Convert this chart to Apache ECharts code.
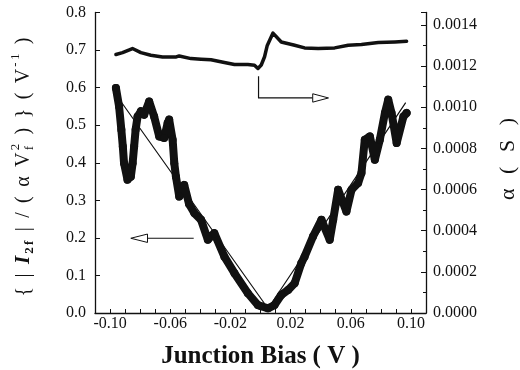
<!DOCTYPE html>
<html>
<head>
<meta charset="utf-8">
<script src="https://cdn.jsdelivr.net/npm/echarts@6/dist/echarts.min.js"></script>
<style>
html,body{margin:0;padding:0;background:#fff;}
#c{width:520px;height:370px;}
</style>
</head>
<body>
<div id="c"></div>
<script>
// ---- data ----
var xTickLabels = ['-0.10', '-0.06', '-0.02', '0.02', '0.06', '0.10'];
var leftTickLabels = ['0.0', '0.1', '0.2', '0.3', '0.4', '0.5', '0.6', '0.7', '0.8'];
var rightTickLabels = ['0.0000', '0.0002', '0.0004', '0.0006', '0.0008', '0.0010', '0.0012', '0.0014'];

// normalized second harmonic  {|I2f|/(alpha Vf^2)}  (left axis, V^-1)
var ratioX = [-0.0961, -0.094, -0.0925, -0.0915, -0.0907, -0.0884, -0.0862, -0.085, -0.084, -0.083, -0.0817, -0.0795, -0.0773, -0.074, -0.0707, -0.0673, -0.064, -0.0617, -0.0607, -0.0584, -0.0573, -0.0562, -0.054, -0.0507, -0.0475, -0.044, -0.0395, -0.035, -0.0307, -0.024, -0.0173, -0.0084, -0.0017, 0.0005, 0.005, 0.0093, 0.0138, 0.0183, 0.0227, 0.0271, 0.0293, 0.0349, 0.0405, 0.046, 0.0483, 0.0516, 0.0571, 0.0605, 0.0649, 0.0671, 0.0693, 0.0727, 0.076, 0.0793, 0.0827, 0.0849, 0.0871, 0.0905, 0.095, 0.0971];
var ratioY = [0.599, 0.55, 0.488, 0.443, 0.399, 0.355, 0.363, 0.399, 0.443, 0.488, 0.523, 0.537, 0.528, 0.563, 0.523, 0.47, 0.466, 0.506, 0.515, 0.461, 0.399, 0.363, 0.31, 0.341, 0.29, 0.266, 0.248, 0.195, 0.2125, 0.15, 0.106, 0.0525, 0.021, 0.018, 0.0125, 0.021, 0.048, 0.061, 0.079, 0.1325, 0.15, 0.2035, 0.248, 0.195, 0.248, 0.328, 0.27, 0.328, 0.346, 0.3725, 0.461, 0.47, 0.408, 0.461, 0.5325, 0.568, 0.5325, 0.4525, 0.523, 0.5325];

// straight-line guide (thin line)
var fitX = [-0.0935, 0.005, 0.0965];
var fitY = [0.567, 0.012, 0.56];

// alpha (right axis, S)
var alphaX = [-0.0961, -0.0917, -0.0851, -0.0795, -0.0729, -0.0651, -0.056, -0.054, -0.0462, -0.0395, -0.0329, -0.024, -0.0173, -0.0084, -0.004, -0.0017, -0.0007, 0.0005, 0.0027, 0.0045, 0.0083, 0.0138, 0.0227, 0.0293, 0.0383, 0.0493, 0.0583, 0.0671, 0.0783, 0.0894, 0.0971];
var alphaY = [0.001256, 0.001265, 0.001285, 0.001265, 0.001252, 0.001244, 0.001244, 0.001249, 0.001236, 0.001233, 0.00123, 0.001217, 0.001207, 0.001207, 0.001204, 0.001188, 0.001183, 0.001205, 0.001245, 0.0013, 0.00136, 0.001317, 0.001301, 0.001288, 0.001285, 0.001288, 0.001301, 0.001304, 0.001314, 0.001317, 0.00132];

// annotation arrows (data coordinates, left axis)
var arrowLeft = {from: [-0.0444, 0.199], base: [-0.0751, 0.199], tip: [-0.0862, 0.199]};
var arrowRight = {top: [-0.0013, 0.63], corner: [-0.0013, 0.5725], base: [0.0347, 0.5725], tip: [0.0452, 0.5725]};

function zip(a, b) { return a.map(function (v, i) { return [v, b[i]]; }); }

var SERIF = '"Liberation Serif", "Times New Roman", serif';
var chart = echarts.init(document.getElementById('c'), null, {renderer: 'canvas'});

function near(v, step) { var k = v / step; return Math.abs(k - Math.round(k)) < 1e-6; }

var option = {
  backgroundColor: '#fff',
  animation: false,
  grid: {left: 95, right: 94, top: 12.5, bottom: 57, containLabel: false, outerBoundsMode: 'none'},
  xAxis: {
    type: 'value', min: -0.11, max: 0.11, interval: 0.01,
    name: 'Junction Bias ( V )', nameLocation: 'middle', nameGap: 31,
    nameTextStyle: {fontFamily: SERIF, fontSize: 25, fontWeight: 'bold', color: '#111'},
    axisLine: {show: true, onZero: false, lineStyle: {color: '#111', width: 1.3}},
    axisTick: {show: true, inside: true, length: 4, interval: 0, lineStyle: {color: '#111', width: 1}},
    axisLabel: {
      interval: 0, margin: 3, fontFamily: SERIF, fontSize: 16, color: '#111',
      formatter: function (v) {
        var s = (Math.round(v * 100) / 100).toFixed(2);
        if (s === '-0.00') s = '0.00';
        return xTickLabels.indexOf(s) >= 0 ? s : '';
      }
    },
    splitLine: {show: false}
  },
  yAxis: [{
    type: 'value', min: 0, max: 0.8, interval: 0.1, position: 'left',
    axisLine: {show: true, onZero: false, lineStyle: {color: '#111', width: 1.3}},
    axisTick: {show: true, inside: true, length: 5, lineStyle: {color: '#111'}},
    axisLabel: {margin: 9, fontFamily: SERIF, fontSize: 16, color: '#111',
      formatter: function (v) { var i = Math.round(v * 10); return leftTickLabels[i] || ''; }},
    splitLine: {show: false}
  }, {
    type: 'value', min: 0, max: 0.00146, interval: 0.0002, position: 'right',
    axisLine: {show: true, onZero: false, lineStyle: {color: '#111', width: 1.3}},
    axisTick: {show: true, inside: true, length: 5, lineStyle: {color: '#111'}},
    minorTick: {show: true, splitNumber: 2, length: 3, lineStyle: {color: '#111'}},
    axisLabel: {margin: 7, fontFamily: SERIF, fontSize: 16, color: '#111', showMaxLabel: false,
      formatter: function (v) {
        if (!near(v, 0.0002)) return '';
        var i = Math.round(v / 0.0002); return rightTickLabels[i] || '';
      }},
    splitLine: {show: false}
  }],
  series: [{
    type: 'line', name: 'fit', yAxisIndex: 0, data: zip(fitX, fitY),
    showSymbol: false, lineStyle: {color: '#111', width: 1.2}, z: 3
  }, {
    type: 'line', name: 'ratio', yAxisIndex: 0, data: zip(ratioX, ratioY),
    symbol: 'circle', symbolSize: 8, showSymbol: true,
    itemStyle: {color: '#111'}, lineStyle: {color: '#111', width: 8, join: 'round', cap: 'round'}, z: 4
  }, {
    type: 'line', name: 'alpha', yAxisIndex: 1, data: zip(alphaX, alphaY),
    showSymbol: false, lineStyle: {color: '#111', width: 3.5, join: 'round', cap: 'round'}, z: 4
  }]
};
chart.setOption(option);

// ---- composed axis titles (rotated, with sub/superscripts) ----
var cv = document.createElement('canvas').getContext('2d');
function tw(font, t) { cv.font = font; return cv.measureText(t).width; }

function buildTitle(segs, gap) {
  var children = [], pos = 0;
  function put(t, f, dy) {
    children.push({type: 'text', x: pos, y: dy, style: {text: t, font: f, fill: '#111', textAlign: 'left', textVerticalAlign: 'middle'}});
  }
  segs.forEach(function (s) {
    if (s.stack) {
      var w = 0;
      s.stack.forEach(function (p) { put(p.t, p.f, p.dy); w = Math.max(w, tw(p.f, p.t)); });
      pos += w + gap;
    } else {
      s.t.split('').forEach(function (ch) { put(ch, s.f, s.dy); pos += tw(s.f, ch) + gap; });
    }
  });
  pos -= gap;
  children.forEach(function (c) { c.x -= pos / 2; });
  return children;
}

var F = '20px ' + SERIF, FB = 'italic bold 21px ' + SERIF, FS = '13px ' + SERIF, FSB = 'bold 13px ' + SERIF;
var leftTitle = buildTitle([
  {t: '{ | ', f: F, dy: 0},
  {t: 'I', f: FB, dy: 0},
  {t: '2f', f: FSB, dy: 6},
  {t: ' | / ( \u03b1 V', f: F, dy: 0},
  {stack: [{t: '2', f: FS, dy: -8}, {t: 'f', f: FS, dy: 6}]},
  {t: ' ) } ( V', f: F, dy: 0},
  {t: '-1', f: FS, dy: -8},
  {t: ' )', f: F, dy: 0}
], 2.2);
var rightTitle = buildTitle([{t: '\u03b1 ( S )', f: '22px ' + SERIF, dy: 0}], 4.5);

function px(p, axis) { return chart.convertToPixel({xAxisIndex: 0, yAxisIndex: axis || 0}, p); }
var aL0 = px(arrowLeft.from), aL1 = px(arrowLeft.base), aL2 = px(arrowLeft.tip);
var aR0 = px(arrowRight.top), aR1 = px(arrowRight.corner), aR2 = px(arrowRight.base), aR3 = px(arrowRight.tip);
var hh = 4.2;

chart.setOption({
  graphic: [
    {type: 'group', x: 24, y: 167, rotation: Math.PI / 2, children: leftTitle},
    {type: 'group', x: 508, y: 159, rotation: Math.PI / 2, children: rightTitle},
    {type: 'polyline', shape: {points: [aL0, aL1]}, style: {stroke: '#111', lineWidth: 1.2, fill: null}},
    {type: 'polygon', shape: {points: [[aL1[0], aL1[1] - hh], [aL2[0], aL2[1]], [aL1[0], aL1[1] + hh]]}, style: {stroke: '#111', lineWidth: 1, fill: '#fff'}},
    {type: 'polyline', shape: {points: [aR0, aR1, aR2]}, style: {stroke: '#111', lineWidth: 1.2, fill: null}},
    {type: 'polygon', shape: {points: [[aR2[0], aR2[1] - hh], [aR3[0], aR3[1]], [aR2[0], aR2[1] + hh]]}, style: {stroke: '#111', lineWidth: 1, fill: '#fff'}}
  ]
});
</script>
</body>
</html>
